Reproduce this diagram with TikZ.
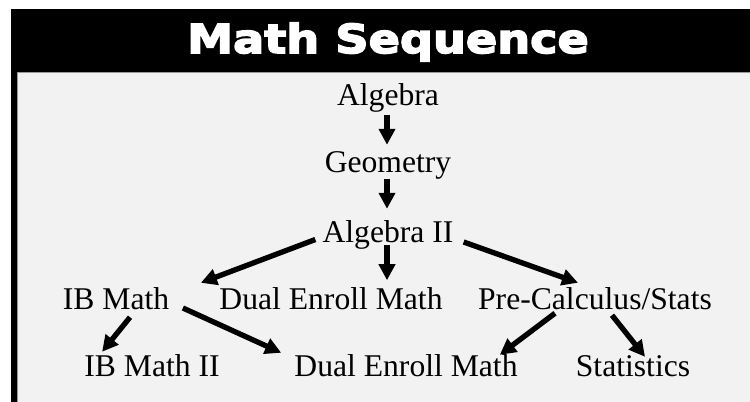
\documentclass[tikz,border=0pt]{standalone}
\usepackage{fontspec}
\setmainfont{Liberation Serif}
\newfontfamily\titlefont[FakeStretch=1.16,BoldFeatures={FakeBold=4}]{DejaVu Sans}
\usetikzlibrary{arrows.meta,calc}
\definecolor{panelgray}{HTML}{F2F2F2}

\begin{document}
\begin{tikzpicture}[x=0.03cm, y=-0.03cm,
    course/.style={inner sep=0, text height=0.66cm, text depth=0.21cm, anchor=base,
        font=\fontsize{27}{32}\selectfont},
    arr/.style={-{Triangle[length=0.48cm,width=0.48cm]}, line width=0.16cm}]
    \useasboundingbox (0,0) rectangle (750,402);

    % Frame and title
    \fill[black] (11,9) rectangle (750,402);
    \draw[fill=panelgray, draw=gray!80, line width=0.4pt] (17,72) rectangle (750,402);
    \node[anchor=base, text=white, font=\titlefont\bfseries\fontsize{34}{40}\selectfont]
        (title) at (388,53) {Math Sequence};

    % Courses
    \node[course] (alg) at (388,106) {Algebra};
    \node[course] (geo) at (388,173) {Geometry};
    \node[course] (alg2) at (388,243) {Algebra II};
    \node[course] (ib) at (116,310) {IB Math};
    \node[course] (dual) at (331,310) {Dual Enroll Math};
    \node[course] (pre) at (595,310) {Pre-Calculus/Stats};
    \node[course] (ib2) at (152,377) {IB Math II};
    \node[course] (dual2) at (406,377) {Dual Enroll Math};
    \node[course] (stats) at (633,377) {Statistics};

    % Arrows
    \draw[arr] ($(alg.south)+(-1,2)$) -- ($(geo.north)+(-1,-6)$);
    \draw[arr] ($(geo.south)+(-1,-1)$) -- ($(alg2.north)+(-1,-12)$);
    \draw[arr] ($(alg2.south)+(-1,-5)$) -- ($(alg2.south -| dual.north)+(56,30)$);
    \draw[arr] ($(alg2.west)+(-7,4)$) -- ($(ib.north east)+(31.5,-5)$);
    \draw[arr] ($(alg2.east)+(10,6.5)$) -- ($(pre.north)+(-17,-5)$);
    \draw[arr] ($(ib.south)+(14,0)$) -- ($(ib2.north west)+(18,-3)$);
    \draw[arr] ($(ib.east)+(13.5,5.5)$) -- ($(dual2.north west)+(-13,-2)$);
    \draw[arr] ($(pre.south)+(-40,-4)$) -- ($(dual2.north east)+(-18,0)$);
    \draw[arr] ($(pre.south)+(17,-2)$) -- ($(stats.north)+(12,2)$);
\end{tikzpicture}
\end{document}
